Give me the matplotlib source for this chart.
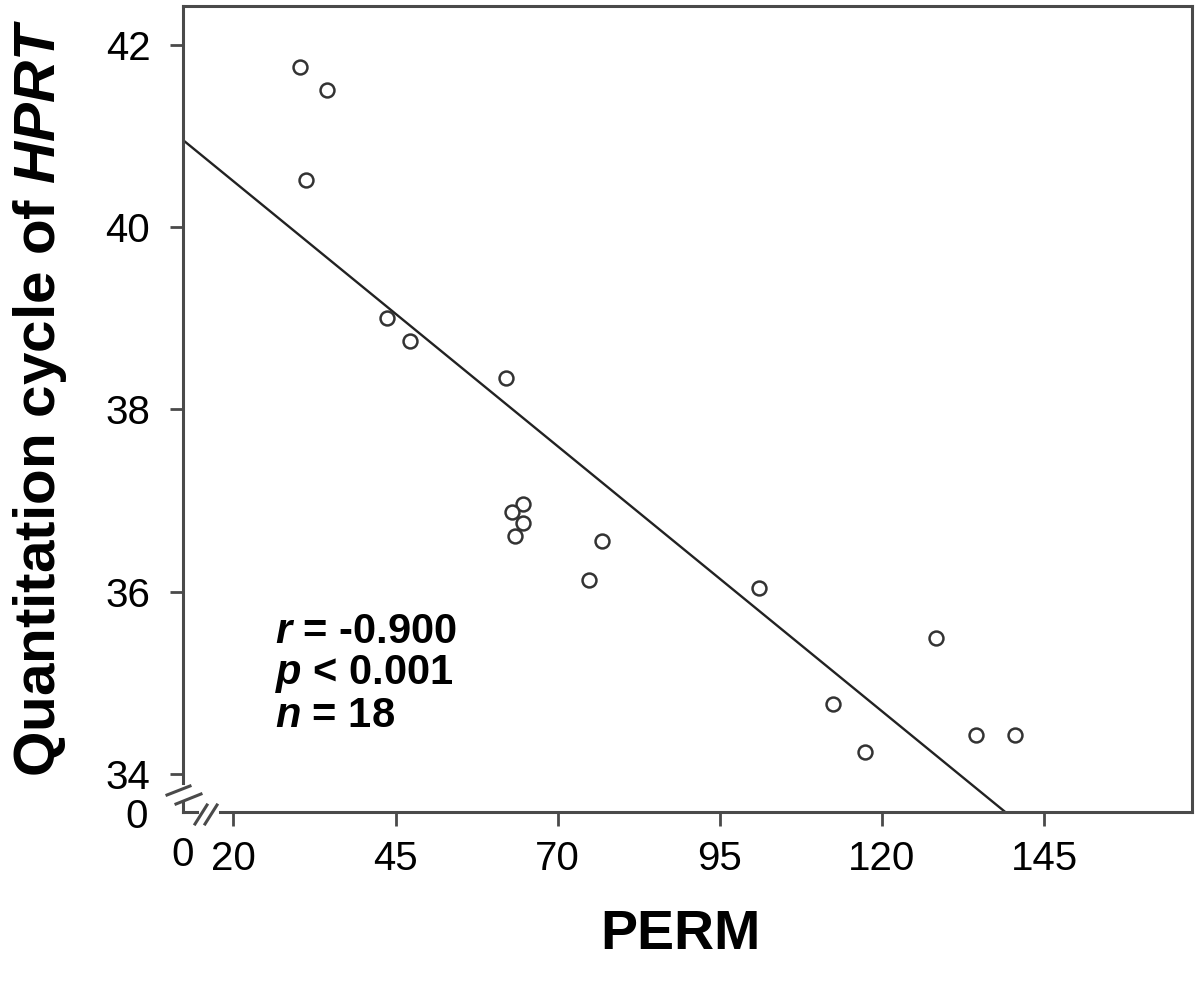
import matplotlib.pyplot as plt
from matplotlib.lines import Line2D
import numpy as np

plt.rcParams['font.family'] = ['Liberation Sans', 'DejaVu Sans']
plt.rcParams['mathtext.fontset'] = 'custom'
plt.rcParams['mathtext.rm'] = 'Liberation Sans'
plt.rcParams['mathtext.it'] = 'Liberation Sans:italic'
plt.rcParams['mathtext.bf'] = 'Liberation Sans:bold'
plt.rcParams['mathtext.bfit'] = 'Liberation Sans:bold:italic'

# data
perm = [30.3, 34.4, 31.2, 43.7, 47.2, 62.1, 64.6, 62.9, 64.6, 63.4,
        76.9, 74.9, 101.1, 128.3, 112.5, 117.4, 134.5, 140.5]
cq_hprt = [41.76, 41.51, 40.52, 39.00, 38.75, 38.35, 36.96, 36.87, 36.75, 36.61,
           36.56, 36.13, 36.04, 35.49, 34.77, 34.24, 34.42, 34.42]

# regression line as drawn
fit_intercept = 41.67
fit_slope = -0.0582

x_ticks = [20, 45, 70, 95, 120, 145]
y_ticks = [34, 36, 38, 40, 42]
stats_lines = [r"$\mathbfit{r}$ = -0.900", r"$\mathbfit{p}$ < 0.001", r"$\mathbfit{n}$ = 18"]

W, H = 1200, 982
fig = plt.figure(figsize=(W / 100, H / 100), dpi=100)
ax = fig.add_axes([183 / W, 1 - 812 / H, (1192 - 183) / W, (812 - 6) / H])

xlim = (12.23, 167.8)
ylim = (33.58, 42.43)
ax.set_xlim(*xlim)
ax.set_ylim(*ylim)

ink = '#4a4a4a'

xs = np.array(xlim)
ax.plot(xs, fit_intercept + fit_slope * xs, color='#222222', lw=1.7, zorder=2)
ax.plot(perm, cq_hprt, 'o', ms=10, mfc='white', mec='#333333', mew=1.8, zorder=3)

ax.set_xticks(x_ticks)
ax.set_yticks(y_ticks)
ax.tick_params(axis='y', length=9.5, width=2, color=ink, pad=14, labelsize=29)
ax.tick_params(axis='x', length=10, width=2, color=ink, pad=10, labelsize=29)

for s in ax.spines.values():
    s.set_color(ink)
    s.set_linewidth(2.2)
ax.spines['left'].set_bounds(33.9, ylim[1])
ax.spines['bottom'].set_bounds(17.9, xlim[1])

# axis break decorations (pixel positions)
def seg(x0, y0, x1, y1, lw=2.2):
    fig.add_artist(Line2D([x0 / W, x1 / W], [1 - y0 / H, 1 - y1 / H],
                          color=ink, lw=lw, transform=fig.transFigure))

seg(183, 802, 183, 812)
seg(183, 812, 197, 812)
seg(167, 795, 190, 786)
seg(176, 804, 201, 794)
seg(195, 824, 207, 805)
seg(205, 824, 217, 805)

fig.text(148 / W, 1 - 817 / H, '0', fontsize=29, ha='right', va='center')
fig.text(183 / W, 1 - 855 / H, '0', fontsize=29, ha='center', va='center')

for i, t in enumerate(stats_lines):
    ax.text(275 / W, 1 - (632 + 42 * i) / H, t, transform=fig.transFigure,
            fontsize=30, fontweight='bold', ha='left', va='center')

fig.text(680 / W, 1 - 935 / H, 'PERM', fontsize=40, fontweight='bold',
         ha='center', va='center')
fig.text(40 / W, 1 - 398 / H, r'Quantitation cycle of $\mathbfit{HPRT}$', fontsize=42,
         fontweight='bold', rotation=90, ha='center', va='center')

fig.savefig('out.png', dpi=100)
